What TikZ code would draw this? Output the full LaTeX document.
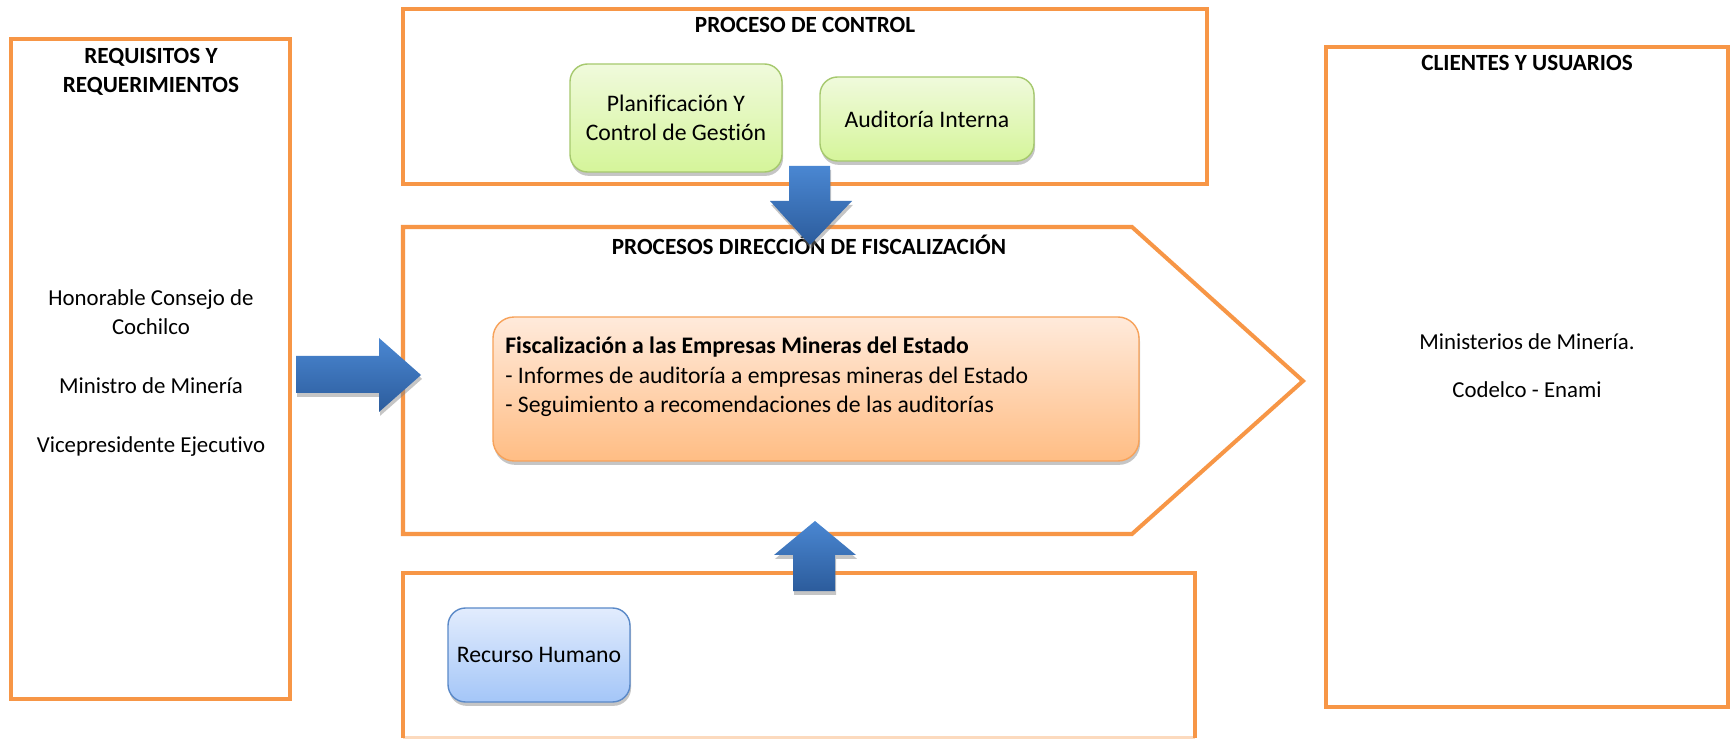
\documentclass[tikz,border=0pt]{standalone}
\usepackage{fontspec}
\setmainfont{Carlito}[Ligatures=NoCommon]
\usetikzlibrary{shadows,positioning}

\definecolor{panelorange}{HTML}{F79646}
\definecolor{greenedge}{HTML}{A6C96E}
\definecolor{greentop}{HTML}{F0FADC}
\definecolor{greenbot}{HTML}{D5F59A}
\definecolor{fiscedge}{HTML}{F7A25A}
\definecolor{fisctop}{HTML}{FFEADB}
\definecolor{fiscbot}{HTML}{FFBD84}
\definecolor{blueedge}{HTML}{5A89C8}
\definecolor{bluetop}{HTML}{E2ECFD}
\definecolor{bluebot}{HTML}{A4C6F8}
\definecolor{arrowtop}{HTML}{4A87D2}
\definecolor{arrowbot}{HTML}{2C5C9C}

\newdimen\pxu
\pxu=0.02cm

\tikzset{
    every node/.style={font=\fontsize{13.5}{16.5}\selectfont, inner sep=0pt},
    panel/.style={draw=panelorange, line width=2.3pt, line join=miter},
    boxshadow/.style={drop shadow={shadow xshift=0.6pt, shadow yshift=-2.2pt, opacity=0.45}},
    greenbox/.style={draw=greenedge, line width=0.8pt, rounded corners=10pt,
        top color=greentop, bottom color=greenbot, boxshadow, align=center},
    fiscbox/.style={draw=fiscedge, line width=0.8pt, rounded corners=12pt,
        top color=fisctop, bottom color=fiscbot, boxshadow},
    bluebox/.style={draw=blueedge, line width=0.8pt, rounded corners=10pt,
        top color=bluetop, bottom color=bluebot, boxshadow, align=center},
    blockarrow/.style={top color=arrowtop, bottom color=arrowbot, boxshadow},
    paneltitle/.style={font=\fontsize{13.2}{16.5}\selectfont\bfseries, align=center},
    paneltext/.style={font=\fontsize{13}{16.5}\selectfont, align=center}
}

\begin{document}
\begin{tikzpicture}[x=0.02cm, y=-0.02cm]

    \fill[white] (0,0) rectangle (1731,739);
    \useasboundingbox (0,0) rectangle (1731,739);

    % Requisitos
    \node[panel, minimum width=279\pxu, minimum height=660\pxu] (req) at (150.5,369) {};
    \node[paneltitle] (reqtitle) at (151,71.5) {REQUISITOS Y\\REQUERIMIENTOS};
    \node[paneltext] (reqtext) at (151,373) {Honorable Consejo de\\Cochilco\\[17pt]Ministro de Minería\\[17pt]Vicepresidente Ejecutivo};

    % Clientes
    \node[panel, minimum width=402\pxu, minimum height=660\pxu] (cli) at (1527,377) {};
    \node[paneltitle] (clititle) at (1527,63) {CLIENTES Y USUARIOS};
    \node[paneltext] (clitext) at (1527,365.5) {Ministerios de Minería.\\[11pt]Codelco - Enami};

    % Proceso de control
    \node[panel, minimum width=804\pxu, minimum height=175\pxu] (control) at (805,96.5) {};
    \node[paneltitle] (controltitle) at (805,25) {PROCESO DE CONTROL};
    \node[greenbox, minimum width=212\pxu, minimum height=108\pxu] (plan) at (676,118) {Planificación Y\\Control de Gestión};
    \node[greenbox, minimum width=214\pxu, minimum height=84\pxu] (audit) at (927,119) {Auditoría Interna};

    % Direccion de fiscalizacion
    \draw[panel] (403,227) -- (1132,227) -- (1303,381) -- (1132,534) -- (403,534) -- cycle;
    \coordinate (dirtip) at (1303,381);
    \node[paneltitle] (dirtitle) at (809,245) {PROCESOS DIRECCIÓN DE FISCALIZACIÓN};
    \node[fiscbox, minimum width=646\pxu, minimum height=144\pxu] (fisc) at (816,389) {};
    \node[anchor=west, align=left, font=\fontsize{13.5}{16.8}\selectfont] (fisctext) at (505,377) {\textbf{Fiscalización a las Empresas Mineras del Estado}\\- Informes de auditoría a empresas mineras del Estado\\- Seguimiento a recomendaciones de las auditorías};

    % Soporte
    \draw[panel] (403,738) -- (403,573) -- (1195,573) -- (1195,738);
    \draw[panel, draw opacity=0.35] (403,738) -- (1195,738);
    \node[bluebox, minimum width=182\pxu, minimum height=94\pxu] (rrhh) at (539,655) {Recurso Humano};

    % Flechas
    \path[blockarrow] (296,356) -- (379,356) -- (379,338) -- (421,375)
        -- (379,412) -- (379,393) -- (296,393) -- cycle;
    \path[blockarrow] (789,166) -- (830,166) -- (830,201) -- (852,201)
        -- (810,245) -- (770,201) -- (789,201) -- cycle;
    \path[blockarrow] (815,521) -- (856,555) -- (835,555) -- (835,591)
        -- (793,591) -- (793,555) -- (774,555) -- cycle;

\end{tikzpicture}
\end{document}
